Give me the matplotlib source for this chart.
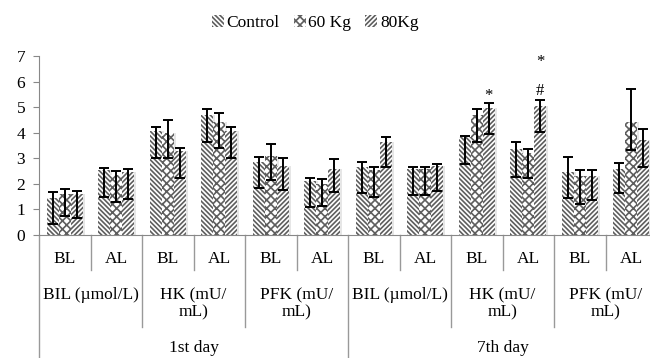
import numpy as np
import matplotlib.pyplot as plt
from matplotlib.patches import Patch

plt.rcParams['font.family'] = ['Liberation Serif', 'DejaVu Serif']
plt.rcParams['hatch.linewidth'] = 1.2

# data, one value per BL/AL column (12 columns)
ticks = ["BL", "AL"] * 6
measures = ["BIL (\u00b5mol/L)", "HK (mU/\nmL)", "PFK (mU/\nmL)"] * 2
days = ["1st day", "7th day"]
series = ["Control", "60 Kg", "80Kg"]

control = [1.45, 2.55, 4.05, 4.70, 2.85, 2.10, 2.65, 2.60, 3.85, 3.35, 2.45, 2.60]
kg60 = [1.60, 2.35, 4.00, 4.40, 3.10, 2.00, 2.55, 2.60, 4.70, 3.20, 2.30, 4.40]
kg80 = [1.60, 2.45, 3.30, 4.05, 2.70, 2.60, 3.65, 2.70, 4.95, 5.05, 2.30, 3.70]

# error bar ends (top / bottom)
control_top = [1.69, 2.63, 4.21, 4.93, 3.06, 2.23, 2.85, 2.67, 3.89, 3.63, 3.06, 2.83]
control_bot = [0.43, 1.50, 3.00, 3.63, 1.85, 1.08, 1.63, 1.57, 2.79, 2.28, 1.46, 1.63]
kg60_top = [1.78, 2.50, 4.50, 4.77, 3.56, 2.18, 2.67, 2.67, 4.93, 3.38, 2.53, 5.71]
kg60_bot = [0.75, 1.30, 3.00, 3.41, 2.14, 1.14, 1.50, 1.57, 3.64, 2.23, 1.22, 3.34]
kg80_top = [1.72, 2.57, 3.39, 4.22, 3.00, 2.96, 3.84, 2.79, 5.16, 5.26, 2.53, 4.16]
kg80_bot = [0.66, 1.40, 2.23, 3.00, 1.75, 1.69, 2.67, 1.73, 3.95, 4.02, 1.36, 2.67]

# significance marks: (column, series index, y, text)
marks = [(8, 2, 5.45, "*"), (9, 2, 5.62, "#"), (9, 2, 6.75, "*")]

hatches = ["\\" * 7, "x" * 4, "/" * 7]


def main():
    fig = plt.figure(figsize=(6.5, 3.58), dpi=100)
    ax = fig.add_axes([0.06, 0.3436, 0.951, 0.5])

    n = len(ticks)
    x = np.arange(n) + 0.5
    w = 0.233
    means = [control, kg60, kg80]
    tops = [control_top, kg60_top, kg80_top]
    bots = [control_bot, kg60_bot, kg80_bot]

    for i in range(3):
        m = np.array(means[i])
        lo = m - np.array(bots[i])
        hi = np.array(tops[i]) - m
        xs = x + (i - 1) * w
        # soft shadow
        ax.bar(xs + 0.04, m, w, color="#e6e6e6", linewidth=0, zorder=1)
        ax.bar(xs, m, w, facecolor="white", edgecolor="#5e5e5e",
               hatch=hatches[i], linewidth=0, zorder=2)
        ax.errorbar(xs, m, yerr=[lo, hi], fmt="none", ecolor="black",
                    elinewidth=1.4, capsize=3.5, capthick=1.4, zorder=3)

    for col, s, y, t in marks:
        ax.text(x[col] + (s - 1) * w, y, t, ha="center", va="center", fontsize=12)

    ax.set_xlim(0, n)
    ax.set_ylim(0, 7)
    ax.set_yticks(range(8))
    ax.tick_params(axis="y", labelsize=12.5, length=4, color="#888888", pad=6)
    ax.set_xticks([])
    for s in ["top", "right"]:
        ax.spines[s].set_visible(False)
    ax.spines["left"].set_color("#888888")
    ax.spines["bottom"].set_color("#888888")

    tr = ax.get_xaxis_transform()
    # category table lines under the axis
    for b in range(n + 1):
        if b % 6 == 0:
            y1 = -0.70
        elif b % 2 == 0:
            y1 = -0.514
        else:
            y1 = -0.1955
        ax.plot([b, b], [0, y1], color="#999999", lw=1, transform=tr, clip_on=False)

    for i in range(n):
        ax.text(x[i], -0.134, ticks[i], ha="center", va="center", fontsize=12.5,
                transform=tr)
    for j, lab in enumerate(measures):
        ax.text(2 * j + 1, -0.29, lab, ha="center", va="top", fontsize=12.5,
                linespacing=1.15, transform=tr)
    for k, lab in enumerate(days):
        ax.text(6 * k + 3, -0.631, lab, ha="center", va="center", fontsize=12.5,
                transform=tr)

    handles = [Patch(facecolor="white", edgecolor="#5e5e5e", hatch=hatches[i],
                     linewidth=0, label=series[i]) for i in range(3)]
    fig.legend(handles=handles, loc="center", bbox_to_anchor=(0.485, 0.935),
               ncol=3, frameon=False, fontsize=12.5, handlelength=0.7,
               handleheight=0.7, handletextpad=0.15, columnspacing=0.8)

    fig.savefig("out.png", dpi=100)


if __name__ == "__main__":
    main()
